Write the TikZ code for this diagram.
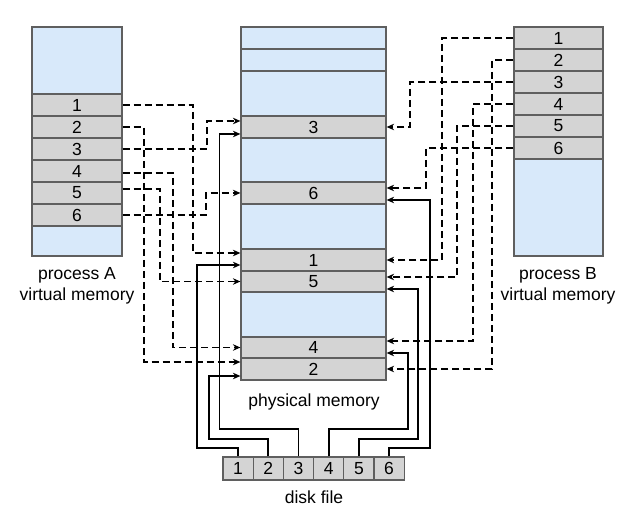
\documentclass[tikz,border=0pt]{standalone}
\usepackage{fontspec}
\setmainfont{Liberation Sans}
\usetikzlibrary{arrows.meta}
\definecolor{lblue}{RGB}{216,233,250}
\definecolor{lgray}{RGB}{212,212,212}
\definecolor{edgec}{RGB}{95,95,95}
\begin{document}
\begin{tikzpicture}[x=1pt,y=-1pt,
  cell/.style={draw=edgec,line width=1.2pt,inner sep=0pt,font=\fontsize{17.5}{20}\selectfont},
  grayrow/.style={cell,fill=lgray,minimum height=22pt},
  bluerow/.style={cell,fill=lblue},
  acol/.style={minimum width=90pt},
  bcol/.style={minimum width=89pt},
  pcol/.style={minimum width=145pt},
  dcell/.style={cell,fill=lgray,minimum width=30.2pt,minimum height=23pt},
  lbl/.style={font=\fontsize{17.5}{21}\selectfont,align=center,inner sep=0pt},
  conn/.style={line width=1.9pt,-{Stealth[length=7.5pt,width=6.5pt]}},
  dsh/.style={conn,dash pattern=on 7pt off 4pt},
  sol/.style={conn}]
\useasboundingbox (0,0) rectangle (639,518);
% process A
\node[bluerow,acol,minimum height=67pt] (atop) at (77,60.5) {};
\foreach \i/\y in {1/105,2/127,3/149,4/171,5/193,6/215}
  \node[grayrow,acol] (a\i) at (77,\y) {\i};
\node[bluerow,acol,minimum height=30pt] (abot) at (77,241) {};
% process B
\foreach \i/\y in {1/38,2/60,3/82,4/104,5/126,6/148}
  \node[grayrow,bcol] (b\i) at (558.5,\y) {\i};
\node[bluerow,bcol,minimum height=97pt] (bbot) at (558.5,207.5) {};
% physical memory
\node[bluerow,pcol,minimum height=22pt] (pb1) at (313.5,38) {};
\node[bluerow,pcol,minimum height=22pt] (pb2) at (313.5,60) {};
\node[bluerow,pcol,minimum height=45pt] (pb3) at (313.5,93.5) {};
\node[grayrow,pcol] (p3) at (313.5,127) {3};
\node[bluerow,pcol,minimum height=44pt] (pb4) at (313.5,160) {};
\node[grayrow,pcol] (p6) at (313.5,193) {6};
\node[bluerow,pcol,minimum height=45pt] (pb5) at (313.5,226.5) {};
\node[grayrow,pcol] (p1) at (313.5,260) {1};
\node[grayrow,pcol,minimum height=21pt] (p5) at (313.5,281.5) {5};
\node[bluerow,pcol,minimum height=45pt] (pb6) at (313.5,314.5) {};
\node[grayrow,pcol,minimum height=21pt] (p4) at (313.5,347.5) {4};
\node[grayrow,pcol] (p2) at (313.5,369) {2};
% disk file
\foreach \i in {1,...,6}
  \node[dcell] (d\i) at ({223+30.2*(\i-0.5)},468.5) {\i};
% labels
\node[lbl] (la) at (77,286) {process A\\virtual memory};
\node[lbl] (lb) at (558,286) {process B\\virtual memory};
\node[lbl] (lp) at (314,402) {physical memory};
\node[lbl] (ld) at (314,497) {disk file};
% process A mappings
\draw[dsh] (a1.east) -- ++(70,0) |- ([yshift=7pt]p1.west);
\draw[dsh] (a2.east) -- ++(21,0) |- ([yshift=7pt]p2.west);
\draw[dsh] (a3.east) -- ++(84,0) |- ([yshift=6pt]p3.west);
\draw[dsh] ([yshift=-2pt]a4.east) -- ++(50,0) |- (p4.west);
\draw[dsh] ([yshift=4pt]a5.east) -- ++(37,0) |- (p5.west);
\draw[dsh] (a6.east) -- ++(83,0) |- (p6.west);
% process B mappings
\draw[dsh] (b1.west) -- ++(-71,0) |- (p1.east);
\draw[dsh] (b2.west) -- ++(-21,0) |- (p2.east);
\draw[dsh] (b3.west) -- ++(-103,0) |- (p3.east);
\draw[dsh] (b4.west) -- ++(-40,0) |- ([yshift=6.5pt]p4.east);
\draw[dsh] (b5.west) -- ++(-56,0) |- ([yshift=4.5pt]p5.east);
\draw[dsh] (b6.west) -- ++(-87,0) |- ([yshift=5pt]p6.east);
% disk file mappings
\draw[sol] (d1.north) -- ++(0,-8) -- ++(-41,0) |- ([yshift=-5pt]p1.west);
\draw[sol] (d2.north) -- ++(0,-17) -- ++(-59,0) |- ([yshift=-7pt]p2.west);
\draw[sol] (d3.north) -- ++(0,-27) -- ++(-79,0) |- ([yshift=-7pt]p3.west);
\draw[sol] (d4.north) -- ++(0,-27) -- ++(79,0) |- ([yshift=-5.5pt]p4.east);
\draw[sol] (d5.north) -- ++(0,-17) -- ++(59,0) |- ([yshift=-7.5pt]p5.east);
\draw[sol] (d6.north) -- ++(0,-8) -- ++(41,0) |- ([yshift=-7pt]p6.east);
\end{tikzpicture}
\end{document}
